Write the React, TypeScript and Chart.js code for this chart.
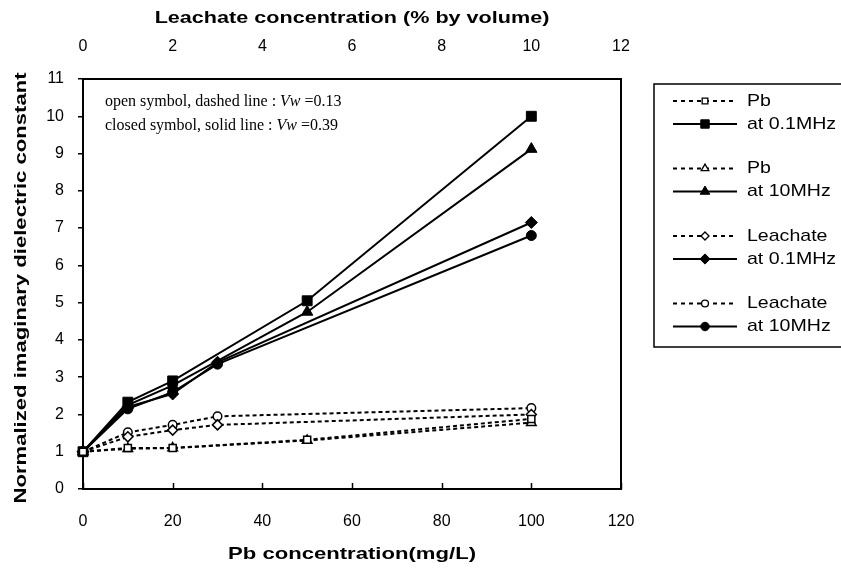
import { useEffect, useRef } from "react";
import { Chart, registerables } from "chart.js";

Chart.register(...registerables);

// Concentrations
const pbConc = [0, 10, 20, 50, 100]; // mg/L (bottom axis)
const leachConc = [0, 1, 2, 3, 10]; // % by volume (top axis)

// Normalized imaginary dielectric constant
const pb01Open = [1, 1.1, 1.1, 1.32, 1.88];
const pb01Closed = [1, 2.33, 2.9, 5.05, 10.0];
const pb10Open = [1, 1.08, 1.1, 1.3, 1.78];
const pb10Closed = [1, 2.25, 2.78, 4.75, 9.12];
const le01Open = [1, 1.4, 1.58, 1.72, 2.0];
const le01Closed = [1, 2.2, 2.55, 3.4, 7.15];
const le10Open = [1, 1.52, 1.72, 1.95, 2.17];
const le10Closed = [1, 2.15, 2.6, 3.35, 6.8];

const legendLabels = ["Pb", "at 0.1MHz", "Pb", "at 10MHz", "Leachate", "at 0.1MHz", "Leachate", "at 10MHz"];
const noteLines = [
  ["open symbol, dashed line : ", "Vw", " =0.13"],
  ["closed symbol, solid line : ", "Vw", " =0.39"],
];

const xTitle = "Pb concentration(mg/L)";
const x2Title = "Leachate concentration (% by volume)";
const yTitle = "Normalized imaginary dielectric constant";

const SANS = "'Liberation Sans', Arial, sans-serif";
const SERIF = "'Liberation Serif', 'Times New Roman', serif";
const TITLE_FONT = "bold 17px " + SANS;

function pts(xs: number[], ys: number[]) {
  return xs.map((x, i) => ({ x, y: ys[i] }));
}

type Style = "rect" | "triangle" | "rectRot" | "circle";

function series(label: string, xs: number[], ys: number[], axis: string, shape: Style, open: boolean) {
  const r = open
    ? { rect: 5, triangle: 5.5, rectRot: 5, circle: 4.3 }[shape]
    : { rect: 7, triangle: 6.5, rectRot: 6, circle: 5 }[shape];
  return {
    label,
    data: pts(xs, ys),
    xAxisID: axis,
    borderColor: "#000",
    borderWidth: 2,
    borderDash: open ? [4, 3] : [],
    pointStyle: shape,
    pointRadius: r,
    pointBorderWidth: open ? 1.5 : 1,
    pointBorderColor: "#000",
    pointBackgroundColor: open ? "#fff" : "#000",
    fill: false,
    tension: 0,
    clip: false as any,
    _open: open,
  };
}

function drawMarker(ctx: CanvasRenderingContext2D, shape: Style, x: number, y: number, r: number, open: boolean) {
  ctx.save();
  ctx.beginPath();
  if (shape === "rect") {
    const s = r * Math.SQRT1_2;
    ctx.rect(x - s, y - s, 2 * s, 2 * s);
  } else if (shape === "rectRot") {
    ctx.moveTo(x, y - r);
    ctx.lineTo(x + r, y);
    ctx.lineTo(x, y + r);
    ctx.lineTo(x - r, y);
    ctx.closePath();
  } else if (shape === "triangle") {
    ctx.moveTo(x, y - r);
    ctx.lineTo(x + r * 0.866, y + r * 0.5);
    ctx.lineTo(x - r * 0.866, y + r * 0.5);
    ctx.closePath();
  } else {
    ctx.arc(x, y, r, 0, Math.PI * 2);
  }
  ctx.fillStyle = open ? "#fff" : "#000";
  ctx.fill();
  ctx.lineWidth = open ? 1.3 : 1;
  ctx.strokeStyle = "#000";
  ctx.setLineDash([]);
  ctx.stroke();
  ctx.restore();
}

// text drawn slightly widened along its baseline
function wideText(
  ctx: CanvasRenderingContext2D,
  text: string,
  x: number,
  y: number,
  font: string,
  sx: number,
  align: CanvasTextAlign,
  rot = 0
) {
  ctx.save();
  ctx.translate(x, y);
  if (rot) ctx.rotate(rot);
  ctx.scale(sx, 1);
  ctx.font = font;
  ctx.fillStyle = "#000";
  ctx.textAlign = align;
  ctx.textBaseline = "middle";
  ctx.fillText(text, 0, 0);
  ctx.restore();
}

const framePlugin = {
  id: "frame",
  beforeDatasetsDraw(chart: any) {
    const { ctx, chartArea: a, scales } = chart;
    ctx.save();
    ctx.strokeStyle = "#000";
    ctx.lineWidth = 2;
    ctx.strokeRect(a.left, a.top, a.right - a.left, a.bottom - a.top);
    // inward tick marks on the bottom axis
    ctx.lineWidth = 1.5;
    const xs = scales.x;
    xs.ticks.forEach((t: any) => {
      const px = Math.round(xs.getPixelForValue(t.value)) + 0.5;
      ctx.beginPath();
      ctx.moveTo(px, a.bottom);
      ctx.lineTo(px, a.bottom - 6);
      ctx.stroke();
    });
    ctx.restore();
  },
  afterDraw(chart: any) {
    const { ctx, chartArea: a } = chart;
    const cx = (a.left + a.right) / 2;
    const cy = (a.top + a.bottom) / 2;

    // axis titles
    wideText(ctx, x2Title, cx, 18, TITLE_FONT, 1.27, "center");
    wideText(ctx, xTitle, cx, 554, TITLE_FONT, 1.3, "center");
    wideText(ctx, yTitle, 21, cy + 4, TITLE_FONT, 1.3, "center", -Math.PI / 2);

    ctx.save();
    // note in the upper-left corner of the plot
    ctx.fillStyle = "#000";
    ctx.textBaseline = "middle";
    noteLines.forEach((parts, i) => {
      let x = a.left + 22;
      const y = a.top + 23 + i * 24;
      parts.forEach((p, j) => {
        ctx.font = (j === 1 ? "italic " : "") + "16px " + SERIF;
        ctx.fillText(p, x, y);
        x += ctx.measureText(p).width;
      });
    });

    // legend box
    const bx = a.right + 33;
    const by = 84;
    ctx.strokeStyle = "#000";
    ctx.lineWidth = 1.5;
    ctx.strokeRect(bx, by, 200, 263);
    chart.data.datasets.forEach((ds: any, i: number) => {
      const pair = Math.floor(i / 2);
      const y = by + 17 + pair * 67.5 + (i % 2) * 23;
      const x0 = bx + 19;
      const x1 = bx + 83;
      ctx.beginPath();
      ctx.lineWidth = 2;
      ctx.strokeStyle = "#000";
      ctx.setLineDash(ds._open ? [4, 4] : []);
      ctx.moveTo(x0, y);
      ctx.lineTo(x1, y);
      ctx.stroke();
      ctx.setLineDash([]);
      drawMarker(ctx, ds.pointStyle, (x0 + x1) / 2, y, ds._open ? ds.pointRadius * 0.8 : ds.pointRadius * 0.85, ds._open);
      wideText(ctx, ds.label, x1 + 10, y, "17px " + SANS, 1.15, "left");
    });
    ctx.restore();
  },
};

export default function App() {
  const ref = useRef<HTMLCanvasElement>(null);

  useEffect(() => {
    document.body.style.margin = "0";
    const canvas = ref.current!;
    const tickFont = { size: 16, family: SANS };
    const chart = new Chart(canvas, {
      type: "line",
      data: {
        datasets: [
          series(legendLabels[0], pbConc, pb01Open, "x", "rect", true),
          series(legendLabels[1], pbConc, pb01Closed, "x", "rect", false),
          series(legendLabels[2], pbConc, pb10Open, "x", "triangle", true),
          series(legendLabels[3], pbConc, pb10Closed, "x", "triangle", false),
          series(legendLabels[4], leachConc, le01Open, "x2", "rectRot", true),
          series(legendLabels[5], leachConc, le01Closed, "x2", "rectRot", false),
          series(legendLabels[6], leachConc, le10Open, "x2", "circle", true),
          series(legendLabels[7], leachConc, le10Closed, "x2", "circle", false),
        ] as any,
      },
      options: {
        responsive: false,
        animation: false,
        devicePixelRatio: 1,
        layout: { padding: { left: 0, right: 220, top: 0, bottom: 0 } },
        plugins: { legend: { display: false }, tooltip: { enabled: false } },
        scales: {
          x: {
            type: "linear",
            position: "bottom",
            min: 0,
            max: 120,
            ticks: { stepSize: 20, color: "#000", font: tickFont, padding: 23 },
            grid: { display: false, drawTicks: false },
            border: { display: false },
            title: { display: false },
            afterFit: (s: any) => {
              s.height = 80;
            },
          },
          x2: {
            type: "linear",
            position: "top",
            min: 0,
            max: 12,
            ticks: { stepSize: 2, color: "#000", font: tickFont, padding: 23 },
            grid: { display: false, drawTicks: false },
            border: { display: false },
            title: { display: false },
            afterFit: (s: any) => {
              s.height = 79;
            },
          },
          y: {
            min: 0,
            max: 11,
            ticks: { stepSize: 1, color: "#000", font: tickFont, padding: 14 },
            grid: { drawOnChartArea: false, drawTicks: true, tickLength: 5, color: "#000", lineWidth: 1.5 },
            border: { display: false },
            title: { display: false },
            afterFit: (s: any) => {
              s.width = 83;
            },
          },
        },
      } as any,
      plugins: [framePlugin],
    });
    return () => chart.destroy();
  }, []);

  return (
    <div style={{ position: "absolute", left: 0, top: 0, width: 841, height: 569, background: "#fff" }}>
      <canvas ref={ref} width={841} height={569} />
    </div>
  );
}
